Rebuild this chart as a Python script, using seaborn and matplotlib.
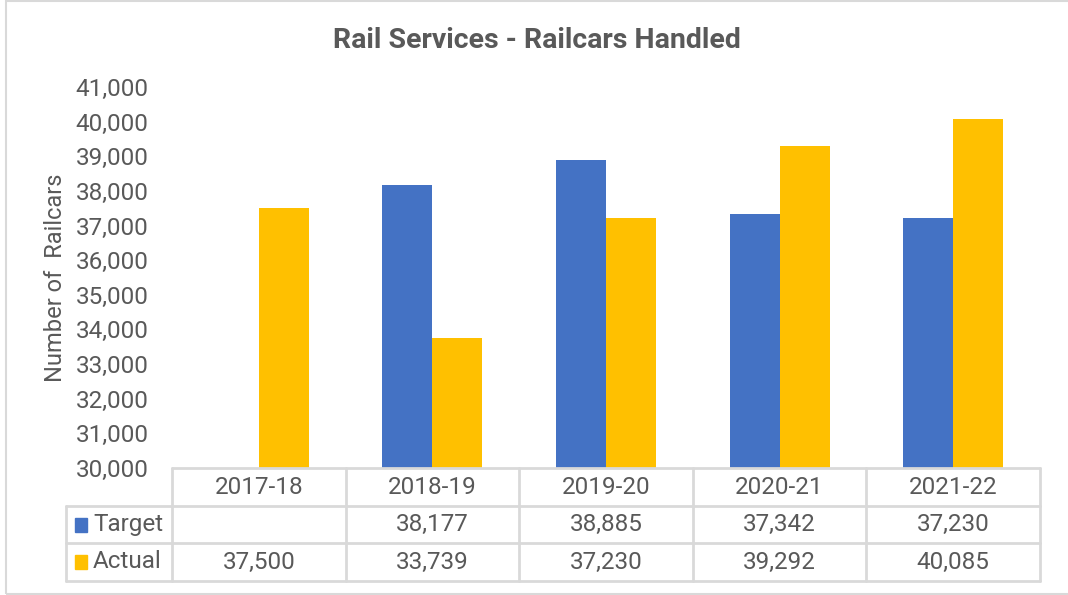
import pandas as pd
import numpy as np
import seaborn as sns
import matplotlib.pyplot as plt
from matplotlib.patches import Rectangle
from matplotlib.lines import Line2D

# Chart data
years = ['2017-18', '2018-19', '2019-20', '2020-21', '2021-22']
target = [np.nan, 38177, 38885, 37342, 37230]
actual = [37500, 33739, 37230, 39292, 40085]
series = ['Target', 'Actual']
colors = ['#4472C4', '#FFC000']
y_ticks = list(range(30000, 41001, 1000))

df = pd.DataFrame({
    'year': years * 2,
    'series': ['Target'] * len(years) + ['Actual'] * len(years),
    'value': target + actual,
})

sns.set_theme(style='white')
plt.rcParams['font.family'] = ['Roboto', 'DejaVu Sans']

text_col = '#595959'
grid_col = '#D9D9D9'
fs = 17.5
W, H = 1068, 595

fig = plt.figure(figsize=(W / 100, H / 100), dpi=100)
ax = fig.add_axes([172 / W, 1 - 468 / H, (1040 - 172) / W, (468 - 87) / H])

sns.barplot(data=df, x='year', y='value', hue='series', order=years,
            hue_order=series, palette=colors, width=0.576, saturation=1,
            linewidth=0, legend=False, ax=ax)

ax.set_ylim(30000, 41000)
ax.set_xlim(-0.5, len(years) - 0.5)
ax.set_yticks(y_ticks)
ax.set_yticklabels([f'{v:,}' for v in y_ticks], fontsize=fs, color=text_col)
ax.tick_params(axis='y', length=0, pad=17)
ax.set_xticks([])
ax.set_xlabel('')
ax.set_ylabel('Number of  Railcars', fontsize=17, color=text_col, labelpad=6)
for s in ax.spines.values():
    s.set_visible(False)

fig.suptitle('Rail Services - Railcars Handled', x=537 / W, y=1 - 40 / H,
             fontsize=20.5, fontweight='bold', color=text_col, va='center')


# helpers in pixel space
def fx(px):
    return px / W


def fy(py):
    return 1 - py / H


def hline(x0, x1, y):
    fig.add_artist(Line2D([fx(x0), fx(x1)], [fy(y), fy(y)], color=grid_col, lw=2))


def vline(x, y0, y1):
    fig.add_artist(Line2D([fx(x), fx(x)], [fy(y0), fy(y1)], color=grid_col, lw=2))


# data table
tbl_left, col0, tbl_right = 66, 172, 1040
rows_y = [468, 506, 543, 581]
col_w = (tbl_right - col0) / len(years)

hline(col0, tbl_right, rows_y[0])
for y in rows_y[1:]:
    hline(tbl_left, tbl_right, y)
vline(tbl_left, rows_y[1], rows_y[3])
for k in range(len(years) + 1):
    vline(col0 + k * col_w, rows_y[0], rows_y[3])

for k, yr in enumerate(years):
    cx = col0 + (k + 0.5) * col_w
    fig.text(fx(cx), fy((rows_y[0] + rows_y[1]) / 2), yr, ha='center', va='center',
             fontsize=fs, color=text_col)
    for r, vals in enumerate([target, actual]):
        v = vals[k]
        if not np.isnan(v):
            fig.text(fx(cx), fy((rows_y[r + 1] + rows_y[r + 2]) / 2), f'{int(v):,}',
                     ha='center', va='center', fontsize=fs, color=text_col)

for r, (name, c) in enumerate(zip(series, colors)):
    cy = (rows_y[r + 1] + rows_y[r + 2]) / 2
    fig.add_artist(Rectangle((fx(75), fy(cy + 7)), fx(12), 14 / H, color=c))
    fig.text(fx(93), fy(cy), name, ha='left', va='center', fontsize=fs, color=text_col)

# outer border
fig.add_artist(Rectangle((fx(6), fy(594)), fx(1070 - 6), (594 - 1) / H, fill=False,
                         edgecolor=grid_col, lw=1.5))

fig.savefig('out.png', dpi=100)
